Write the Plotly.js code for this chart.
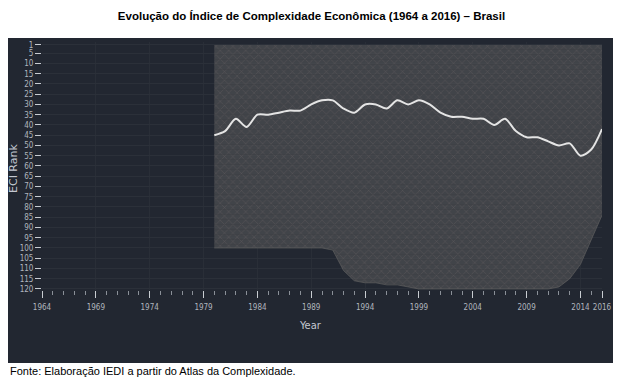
<!DOCTYPE html>
<html>
<head>
<meta charset="utf-8">
<script src="https://cdn.plot.ly/plotly-3.0.1.min.js"></script>
<style>html,body{margin:0;padding:0;background:#fff;}#chart{width:623px;height:386px;}</style>
</head>
<body>
<div id="chart"></div>
<script>
// ---- data ----
const years = [1980,1981,1982,1983,1984,1985,1986,1987,1988,1989,1990,1991,1992,1993,1994,1995,1996,1997,1998,1999,2000,2001,2002,2003,2004,2005,2006,2007,2008,2009,2010,2011,2012,2013,2014,2015,2016];
const brazilRank = [45,43,37,41,35,35,34,33,33,30,28,28,32,34,30,30,32,28,30,28,30,34,36,36,37,37,40,37,43,46,46,48,50,49,55,52,42];
// envelope of the other countries' rank lines (grey mass)
const othersTop = [1,1,1,1,1,1,1,1,1,1,1,1,1,1,1,1,1,1,1,1,1,1,1,1,1,1,1,1,1,1,1,1,1,1,1,1,1];
const othersBottom = [100,100,100,100,100,100,100,100,100,100,100,101,111,116,117,117,118,118,119,120,120,120,120,120,120,120,120,120,120,120,120,120,119,115,108,96,84];
const xTickVals = [1964,1969,1974,1979,1984,1989,1994,1999,2004,2009,2014,2016];
const yTickVals = [1,5,10,15,20,25,30,35,40,45,50,55,60,65,70,75,80,85,90,95,100,105,110,115,120];
const titleText = 'Evolução do Índice de Complexidade Econômica (1964 a 2016) – Brasil';
const sourceText = 'Fonte: Elaboração IEDI a partir do Atlas da Complexidade.';

const tickFont = {family: 'DejaVu Sans Condensed, DejaVu Sans', size: 8, color: '#b0b5bd'};

const traces = [
  {x: years, y: othersTop, mode: 'lines', line: {width: 0, color: 'rgba(0,0,0,0)'}, showlegend: false, hoverinfo: 'skip'},
  {x: years, y: othersBottom, mode: 'lines', fill: 'tonexty',
   fillcolor: 'rgba(78,79,82,0.78)',
   fillpattern: {shape: 'x', bgcolor: 'rgba(74,75,79,0.78)', fgcolor: 'rgba(125,122,118,1)', fgopacity: 0.5, size: 6, solidity: 0.12},
   line: {width: 1, color: 'rgba(95,95,95,0.7)'}, showlegend: false, hoverinfo: 'skip'},
  {x: years, y: othersTop, mode: 'lines', line: {width: 0, color: 'rgba(0,0,0,0)'}, showlegend: false, hoverinfo: 'skip'},
  {x: years, y: othersBottom, mode: 'lines', fill: 'tonexty',
   fillcolor: 'rgba(0,0,0,0)',
   fillpattern: {shape: '-', bgcolor: 'rgba(0,0,0,0)', fgcolor: 'rgba(60,62,66,1)', fgopacity: 0.45, size: 5, solidity: 0.2},
   line: {width: 0, color: 'rgba(0,0,0,0)'}, showlegend: false, hoverinfo: 'skip'},
  {x: years, y: brazilRank, mode: 'lines', line: {color: '#e4e4e4', width: 2, shape: 'spline', smoothing: 0.8}, name: 'Brasil', showlegend: false}
];

const W = 560, H = 248; // plot area size in px
const layout = {
  width: 623, height: 386,
  margin: {l: 42, r: 21, t: 42, b: 96, pad: 0},
  paper_bgcolor: '#ffffff',
  plot_bgcolor: '#353b45',
  title: {text: '<b>' + titleText + '</b>', font: {family: 'Liberation Sans, Arial, sans-serif', size: 11.5, color: '#000'},
          xref: 'container', x: 0.5, xanchor: 'center', yref: 'container', y: 1 - 16/386, yanchor: 'middle'},
  xaxis: {range: [1964, 2016], tickmode: 'array', tickvals: xTickVals, ticktext: xTickVals.map(String),
          ticks: 'outside', ticklen: 7, tickwidth: 1, tickcolor: '#c8ccd2',
          showgrid: true, gridcolor: '#292e37', gridwidth: 1, zeroline: false, showline: false,
          tickfont: tickFont, ticklabelstandoff: 2,
          minor: {tick0: 1964, dtick: 1, ticks: 'outside', ticklen: 4, tickcolor: '#8a9098', showgrid: false}},
  yaxis: {range: [120.5, -0.46], tickmode: 'array', tickvals: yTickVals, ticktext: yTickVals.map(String),
          ticks: 'outside', ticklen: 6, tickwidth: 1, tickcolor: '#c8ccd2',
          showgrid: true, gridcolor: '#2b3039', gridwidth: 1, zeroline: false, showline: false,
          tickfont: tickFont},
  shapes: [
    {type: 'rect', xref: 'paper', yref: 'paper', x0: (8-42)/W, x1: (613-42)/W, y0: (290-363)/H, y1: (290-38)/H,
     fillcolor: '#222731', line: {width: 0}, layer: 'below'}
  ],
  annotations: [
    {text: 'ECI Rank', xref: 'paper', yref: 'paper', x: (13-42)/W, y: (290-168)/H, textangle: -90,
     xanchor: 'center', yanchor: 'middle', showarrow: false,
     font: {family: 'DejaVu Sans, sans-serif', size: 11, color: '#c4c8d0'}},
    {text: 'Year', xref: 'paper', yref: 'paper', x: (310-42)/W, y: (290-325)/H,
     xanchor: 'center', yanchor: 'middle', showarrow: false,
     font: {family: 'DejaVu Sans Condensed, DejaVu Sans', size: 11, color: '#c4c8d0'}},
    {text: sourceText, xref: 'paper', yref: 'paper', x: (8-42)/W, y: (290-371)/H,
     xanchor: 'left', yanchor: 'middle', showarrow: false,
     font: {family: 'Liberation Sans, Arial, sans-serif', size: 11, color: '#000'}}
  ],
  showlegend: false
};

Plotly.newPlot('chart', traces, layout, {displayModeBar: false, staticPlot: true});
</script>
</body>
</html>
